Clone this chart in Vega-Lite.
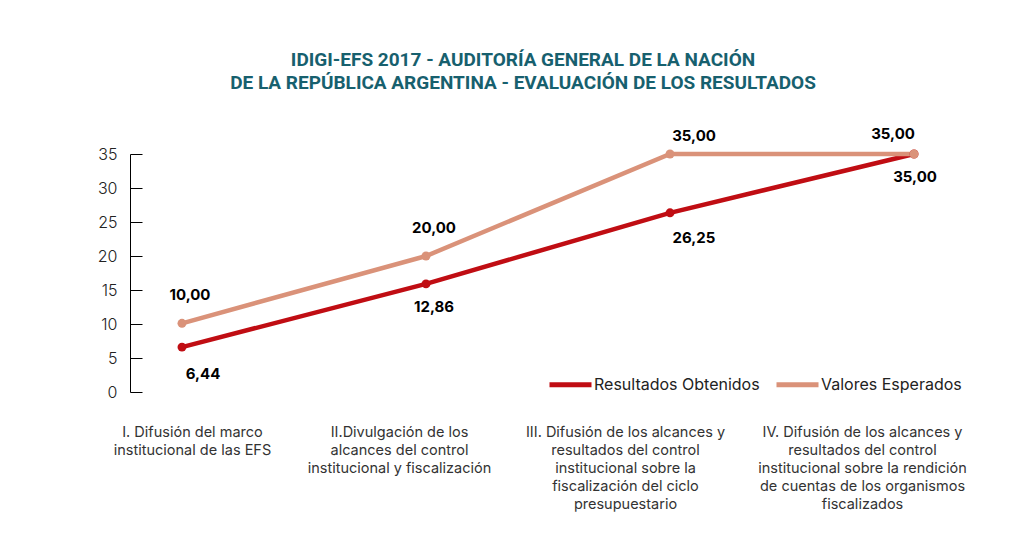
{
  "$schema": "https://vega.github.io/schema/vega-lite/v6.json",
  "autosize": {"type": "none"},
  "width": 836,
  "height": 238,
  "padding": {"left": 130, "top": 154, "right": 58, "bottom": 150},
  "background": "white",
  "config": {
    "view": {"stroke": null},
    "font": "Roboto"
  },
  "title": {
    "text": ["IDIGI-EFS 2017 - AUDITORÍA GENERAL DE LA NACIÓN", "DE LA REPÚBLICA ARGENTINA - EVALUACIÓN DE LOS RESULTADOS"],
    "font": "Roboto",
    "fontSize": 19,
    "fontWeight": "bold",
    "color": "#17606E",
    "lineHeight": 23,
    "anchor": "middle",
    "offset": 34,
    "dx": -25
  },
  "data": {
    "values": [
      {"n": 1, "cat": "I. Difusión del marco\ninstitucional de las EFS", "serie": "Resultados Obtenidos", "valor": 6.6, "etiqueta": "6,44"},
      {"n": 2, "cat": "II.Divulgación de los\nalcances del control\ninstitucional y fiscalización", "serie": "Resultados Obtenidos", "valor": 15.9, "etiqueta": "12,86"},
      {"n": 3, "cat": "III. Difusión  de los  alcances y\nresultados del control\ninstitucional  sobre la\nfiscalización del ciclo\npresupuestario", "serie": "Resultados Obtenidos", "valor": 26.35, "etiqueta": "26,25"},
      {"n": 4, "cat": "IV. Difusión de los alcances y\nresultados del control\ninstitucional  sobre la rendición\nde cuentas de los organismos\nfiscalizados", "serie": "Resultados Obtenidos", "valor": 35.0, "etiqueta": "35,00"},
      {"n": 1, "cat": "I. Difusión del marco\ninstitucional de las EFS", "serie": "Valores Esperados", "valor": 10.1, "etiqueta": "10,00"},
      {"n": 2, "cat": "II.Divulgación de los\nalcances del control\ninstitucional y fiscalización", "serie": "Valores Esperados", "valor": 20.0, "etiqueta": "20,00"},
      {"n": 3, "cat": "III. Difusión  de los  alcances y\nresultados del control\ninstitucional  sobre la\nfiscalización del ciclo\npresupuestario", "serie": "Valores Esperados", "valor": 35.0, "etiqueta": "35,00"},
      {"n": 4, "cat": "IV. Difusión de los alcances y\nresultados del control\ninstitucional  sobre la rendición\nde cuentas de los organismos\nfiscalizados", "serie": "Valores Esperados", "valor": 35.0, "etiqueta": "35,00"}
    ]
  },
  "encoding": {
    "x": {
      "field": "cat", "type": "nominal", "sort": null,
      "scale": {"type": "point", "padding": 0.213},
      "axis": {
        "title": null, "domain": false, "ticks": false, "labelAngle": 0,
        "labelExpr": "split(datum.value, '\\n')",
        "labelFont": "Inter", "labelFontSize": 14.5, "labelColor": "#333333",
        "labelLineHeight": 18, "labelPadding": 33, "labelBaseline": "top", "labelLimit": 0,
        "labelOffset": {"condition": [
          {"test": "datum.index < 0.1", "value": 10},
          {"test": "datum.index < 0.5", "value": -27},
          {"test": "datum.index < 0.9", "value": -45}
        ], "value": -52}
      }
    },
    "y": {
      "field": "valor", "type": "quantitative",
      "scale": {"domain": [0, 35], "nice": false},
      "axis": {
        "title": null, "grid": false, "values": [0, 5, 10, 15, 20, 25, 30, 35],
        "domainColor": "#000000", "tickColor": "#000000", "tickSize": -12,
        "labelPadding": 25, "labelFont": "Inter", "labelFontSize": 16, "labelFontWeight": 300,
        "labelColor": "#222222"
      }
    }
  },
  "layer": [
    {
      "mark": {"type": "line", "strokeWidth": 4.5, "point": {"filled": true, "size": 80}},
      "encoding": {
        "color": {
          "field": "serie", "type": "nominal",
          "scale": {"domain": ["Resultados Obtenidos", "Valores Esperados"], "range": ["#C00D13", "#DA9279"]},
          "legend": {
            "title": null, "orient": "none", "direction": "horizontal",
            "legendX": 417, "legendY": 207,
            "symbolType": "stroke", "symbolSize": 1764, "symbolStrokeWidth": 5,
            "labelFont": "Inter", "labelFontSize": 16, "labelColor": "#222222", "labelLimit": 400,
            "labelOffset": 0, "columnPadding": 6
          }
        }
      }
    },
    {
      "transform": [{"filter": "datum.serie == 'Valores Esperados' && datum.n <= 2"}],
      "mark": {"type": "text", "font": "Inter", "fontSize": 15, "fontWeight": "bold", "color": "#000000", "dx": 8, "dy": -28},
      "encoding": {"text": {"field": "etiqueta"}}
    },
    {
      "transform": [{"filter": "datum.serie == 'Valores Esperados' && datum.n == 3"}],
      "mark": {"type": "text", "font": "Inter", "fontSize": 15, "fontWeight": "bold", "color": "#000000", "dx": 24, "dy": -18},
      "encoding": {"text": {"field": "etiqueta"}}
    },
    {
      "transform": [{"filter": "datum.serie == 'Valores Esperados' && datum.n == 4"}],
      "mark": {"type": "text", "font": "Inter", "fontSize": 15, "fontWeight": "bold", "color": "#000000", "dx": -21, "dy": -20},
      "encoding": {"text": {"field": "etiqueta"}}
    },
    {
      "transform": [{"filter": "datum.serie == 'Resultados Obtenidos' && datum.n == 1"}],
      "mark": {"type": "text", "font": "Inter", "fontSize": 15, "fontWeight": "bold", "color": "#000000", "dx": 21, "dy": 27},
      "encoding": {"text": {"field": "etiqueta"}}
    },
    {
      "transform": [{"filter": "datum.serie == 'Resultados Obtenidos' && datum.n == 2"}],
      "mark": {"type": "text", "font": "Inter", "fontSize": 15, "fontWeight": "bold", "color": "#000000", "dx": 8, "dy": 23},
      "encoding": {"text": {"field": "etiqueta"}}
    },
    {
      "transform": [{"filter": "datum.serie == 'Resultados Obtenidos' && datum.n == 3"}],
      "mark": {"type": "text", "font": "Inter", "fontSize": 15, "fontWeight": "bold", "color": "#000000", "dx": 24, "dy": 25},
      "encoding": {"text": {"field": "etiqueta"}}
    },
    {
      "transform": [{"filter": "datum.serie == 'Resultados Obtenidos' && datum.n == 4"}],
      "mark": {"type": "text", "font": "Inter", "fontSize": 15, "fontWeight": "bold", "color": "#000000", "dx": 1, "dy": 23},
      "encoding": {"text": {"field": "etiqueta"}}
    }
  ]
}
